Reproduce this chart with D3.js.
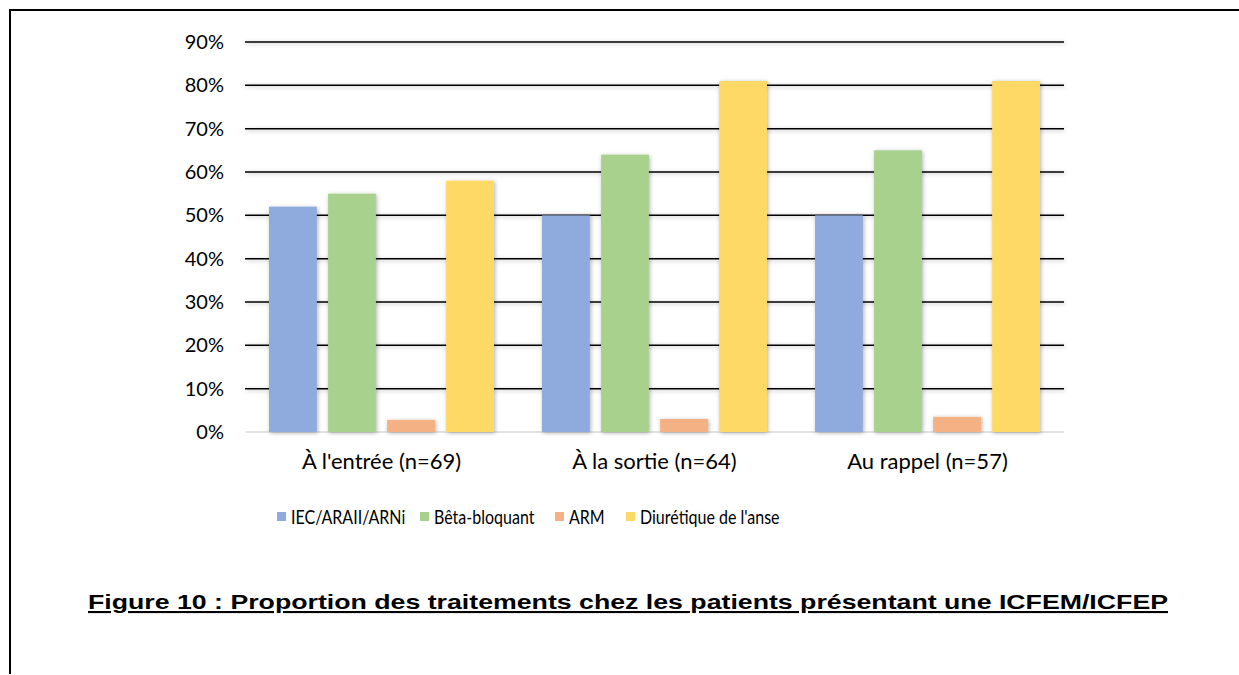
<!DOCTYPE html>
<html>
<head>
<meta charset="utf-8">
<script src="https://cdn.jsdelivr.net/npm/d3@7"></script>
<style>
  body { margin: 0; background: #fff; }
  svg { display: block; }
</style>
</head>
<body>
<div id="chart"></div>
<script>
// chart data
const categories = ["À l'entrée (n=69)", "À la sortie (n=64)", "Au rappel (n=57)"];
const seriesNames = ["IEC/ARAII/ARNi", "Bêta-bloquant", "ARM", "Diurétique de l'anse"];
const iecValues = [52, 50, 50];
const bbValues = [55, 64, 65];
const armValues = [2.8, 3, 3.5];
const diurValues = [58, 81, 81];
const yTicks = [0, 10, 20, 30, 40, 50, 60, 70, 80, 90];
const colors = ["#8faadc", "#a9d18e", "#f4b183", "#ffd966"];
const titleText = "Figure 10 : Proportion des traitements chez les patients présentant une ICFEM/ICFEP";

const allValues = [iecValues, bbValues, armValues, diurValues];

const width = 1239, height = 675;
const plot = {left: 245, right: 1064, top: 42, bottom: 432};
const font = "Lato, 'Open Sans', sans-serif";

const svg = d3.select("#chart")
  .append("svg")
  .attr("width", width)
  .attr("height", height);

// soft shadow like the office chart
const defs = svg.append("defs");
defs.append("filter")
  .attr("id", "shadow")
  .attr("filterUnits", "userSpaceOnUse")
  .attr("x", 0).attr("y", 0)
  .attr("width", width).attr("height", height)
  .append("feDropShadow")
  .attr("dx", 1).attr("dy", 1)
  .attr("stdDeviation", 2)
  .attr("flood-color", "#000")
  .attr("flood-opacity", 0.3);

// frame (top + left only)
svg.append("line")
  .attr("x1", 9).attr("x2", width).attr("y1", 10).attr("y2", 10)
  .attr("stroke", "#000").attr("stroke-width", 2);
svg.append("line")
  .attr("x1", 10).attr("x2", 10).attr("y1", 9).attr("y2", 674)
  .attr("stroke", "#000").attr("stroke-width", 2);

const y = d3.scaleLinear().domain([0, 90]).range([plot.bottom, plot.top]);

const x0 = d3.scaleBand()
  .domain(categories)
  .range([plot.left, plot.right])
  .padding(0);

const groupW = x0.bandwidth();
const x1 = d3.scaleBand()
  .domain(seriesNames)
  .range([groupW * 0.088, groupW * 0.912])
  .paddingInner(0.19)
  .paddingOuter(0);

// gridlines
const grid = svg.append("g").attr("filter", "url(#shadow)");
grid.selectAll("line")
  .data(yTicks.filter(d => d > 0))
  .join("line")
  .attr("x1", plot.left).attr("x2", plot.right)
  .attr("y1", d => y(d)).attr("y2", d => y(d))
  .attr("stroke", "#000")
  .attr("stroke-width", 1.5);

// zero baseline
svg.append("line")
  .attr("x1", plot.left).attr("x2", plot.right)
  .attr("y1", y(0)).attr("y2", y(0))
  .attr("stroke", "#d9d9d9")
  .attr("stroke-width", 1.5);

// y axis labels
const yAxis = d3.axisLeft(y)
  .tickValues(yTicks)
  .tickFormat(d => d + "%")
  .tickSize(0)
  .tickPadding(21);

const yG = svg.append("g")
  .attr("transform", `translate(${plot.left},0)`)
  .call(yAxis);
yG.select(".domain").remove();
yG.selectAll("text")
  .attr("font-family", font)
  .attr("font-size", 20)
  .attr("fill", "#000");

// bars
const groups = svg.append("g")
  .selectAll("g")
  .data(categories)
  .join("g")
  .attr("transform", d => `translate(${x0(d)},0)`);

groups.selectAll("rect")
  .data((c, i) => seriesNames.map((s, j) => ({series: s, value: allValues[j][i], color: colors[j]})))
  .join("rect")
  .attr("x", d => x1(d.series))
  .attr("width", x1.bandwidth())
  .attr("y", d => y(d.value))
  .attr("height", d => y(0) - y(d.value))
  .attr("fill", d => d.color)
  .attr("filter", "url(#shadow)");

// x axis labels
const xAxis = d3.axisBottom(x0).tickSize(0).tickPadding(21);
const xG = svg.append("g")
  .attr("transform", `translate(0,${plot.bottom})`)
  .call(xAxis);
xG.select(".domain").remove();
xG.selectAll("text")
  .attr("font-family", font)
  .attr("font-size", 22)
  .attr("fill", "#000");

// legend
const legendX = [277, 420, 555, 626];
const legend = svg.append("g");
const items = legend.selectAll("g")
  .data(seriesNames)
  .join("g")
  .attr("transform", (d, i) => `translate(${legendX[i]},512)`);
items.append("rect")
  .attr("width", 9).attr("height", 9)
  .attr("fill", (d, i) => colors[i]);
items.append("text")
  .attr("x", 14)
  .attr("y", 12)
  .attr("font-family", font)
  .attr("font-size", 20)
  .text(d => d)
  .each(function() {
    // narrower, like calibri
    const w = this.getComputedTextLength();
    d3.select(this).attr("textLength", w * 0.8).attr("lengthAdjust", "spacingAndGlyphs");
  });

// title
svg.append("text")
  .attr("x", 88)
  .attr("y", 609)
  .attr("textLength", 1080)
  .attr("lengthAdjust", "spacingAndGlyphs")
  .attr("font-family", "'Liberation Sans', Arial, sans-serif")
  .attr("font-weight", "bold")
  .attr("font-size", 21)
  .attr("text-decoration", "underline")
  .text(titleText);
</script>
</body>
</html>
